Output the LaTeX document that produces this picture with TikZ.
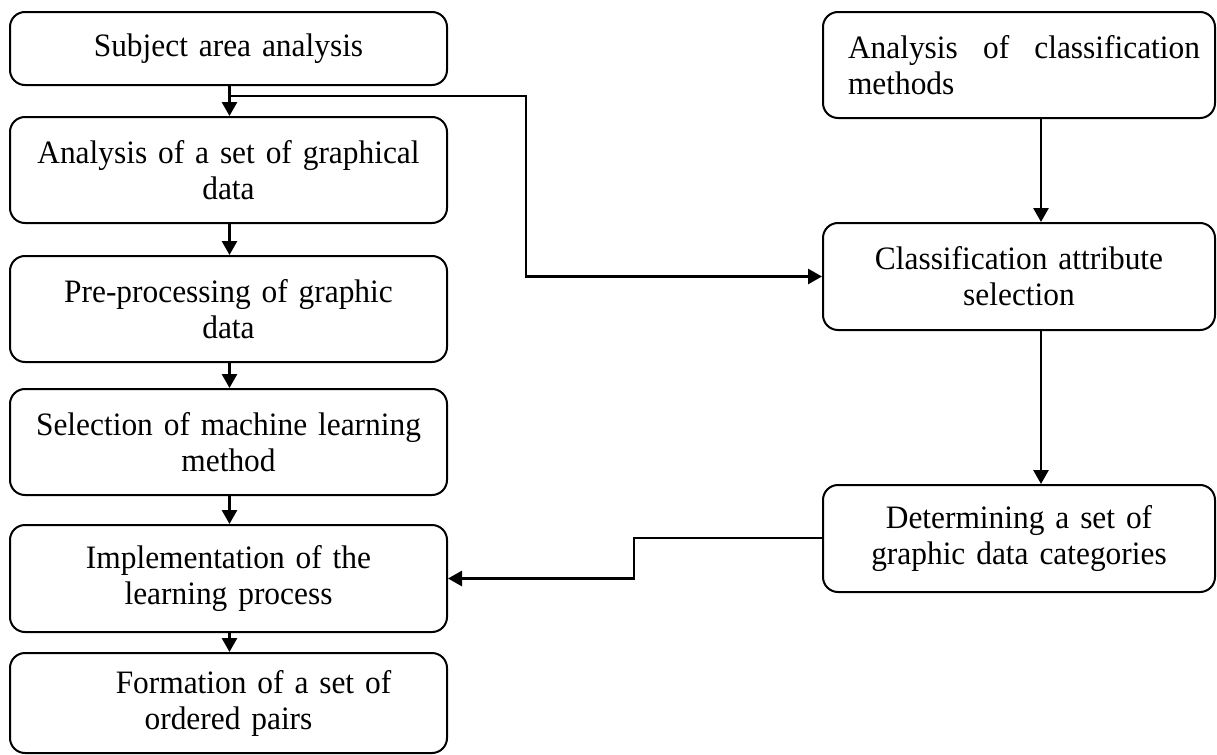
\documentclass[tikz,border=0pt]{standalone}
\usepackage{fontspec}
\setmainfont[FakeStretch=0.96]{Liberation Serif}
\usetikzlibrary{arrows.meta}
\begin{document}
\begin{tikzpicture}[x=0.5pt,y=-0.5pt,
  box/.style={draw,line width=1pt,rounded corners=7.5pt,align=center,
    font=\fontsize{16.35}{18}\selectfont,inner sep=0pt},
  lbox/.style={box,minimum width=218.5pt,text width=210pt},
  rbox/.style={box,minimum width=196pt,text width=188pt},
  arr/.style={line width=1.4pt,-{Triangle[length=7pt,width=7.5pt]}}]
\useasboundingbox (0,0) rectangle (1217,755);
% left column
\node[lbox,minimum height=36.5pt] (b1) at (228.5,48.5) {Subject area analysis};
\node[lbox,minimum height=53pt] (b2) at (228.5,170) {Analysis of a set of graphical\\data};
\node[lbox,minimum height=53pt] (b3) at (228.5,309) {Pre-processing of graphic\\data};
\node[lbox,minimum height=53pt] (b4) at (228.5,442) {Selection of machine learning\\method};
\node[lbox,minimum height=53.5pt] (b5) at (228.5,578.5) {Implementation of the\\learning process};
\node[lbox,minimum height=50pt] (b6) at (228.5,703) {\hspace*{25pt}Formation of a set of\\ordered pairs};
% right column
\node[box,minimum width=196pt,minimum height=53pt,text width=181pt,align=left] (r1) at (1019,65) {\hspace*{5pt}Analysis\hfill of\hfill classification\\\hspace*{5pt}methods};
\node[rbox,minimum height=53.5pt] (r2) at (1019,276.5) {Classification attribute\\selection};
\node[rbox,minimum height=53.5pt] (r3) at (1019,538.5) {Determining a set of\\graphic data categories};
% helper coordinates
\coordinate (lx) at (229.5,0);
\coordinate (rx) at (1041,0);
\coordinate (br) at (526,96);
\coordinate (jog) at (634,538);
% left arrows
\draw[arr] (b1.south -| lx) -- (b2.north -| lx);
\draw[arr] (b2.south -| lx) -- (b3.north -| lx);
\draw[arr] (b3.south -| lx) -- (b4.north -| lx);
\draw[arr] (b4.south -| lx) -- (b5.north -| lx);
\draw[arr] (b5.south -| lx) -- (b6.north -| lx);
% branch to classification attribute selection
\draw[arr] (br -| lx) -- (br) |- (r2.west);
% right arrows
\draw[arr] (r1.south -| rx) -- (r2.north -| rx);
\draw[arr] (r2.south -| rx) -- (r3.north -| rx);
% back to implementation
\draw[arr] (r3.west |- jog) -- (jog) |- (b5.east);
\end{tikzpicture}
\end{document}
